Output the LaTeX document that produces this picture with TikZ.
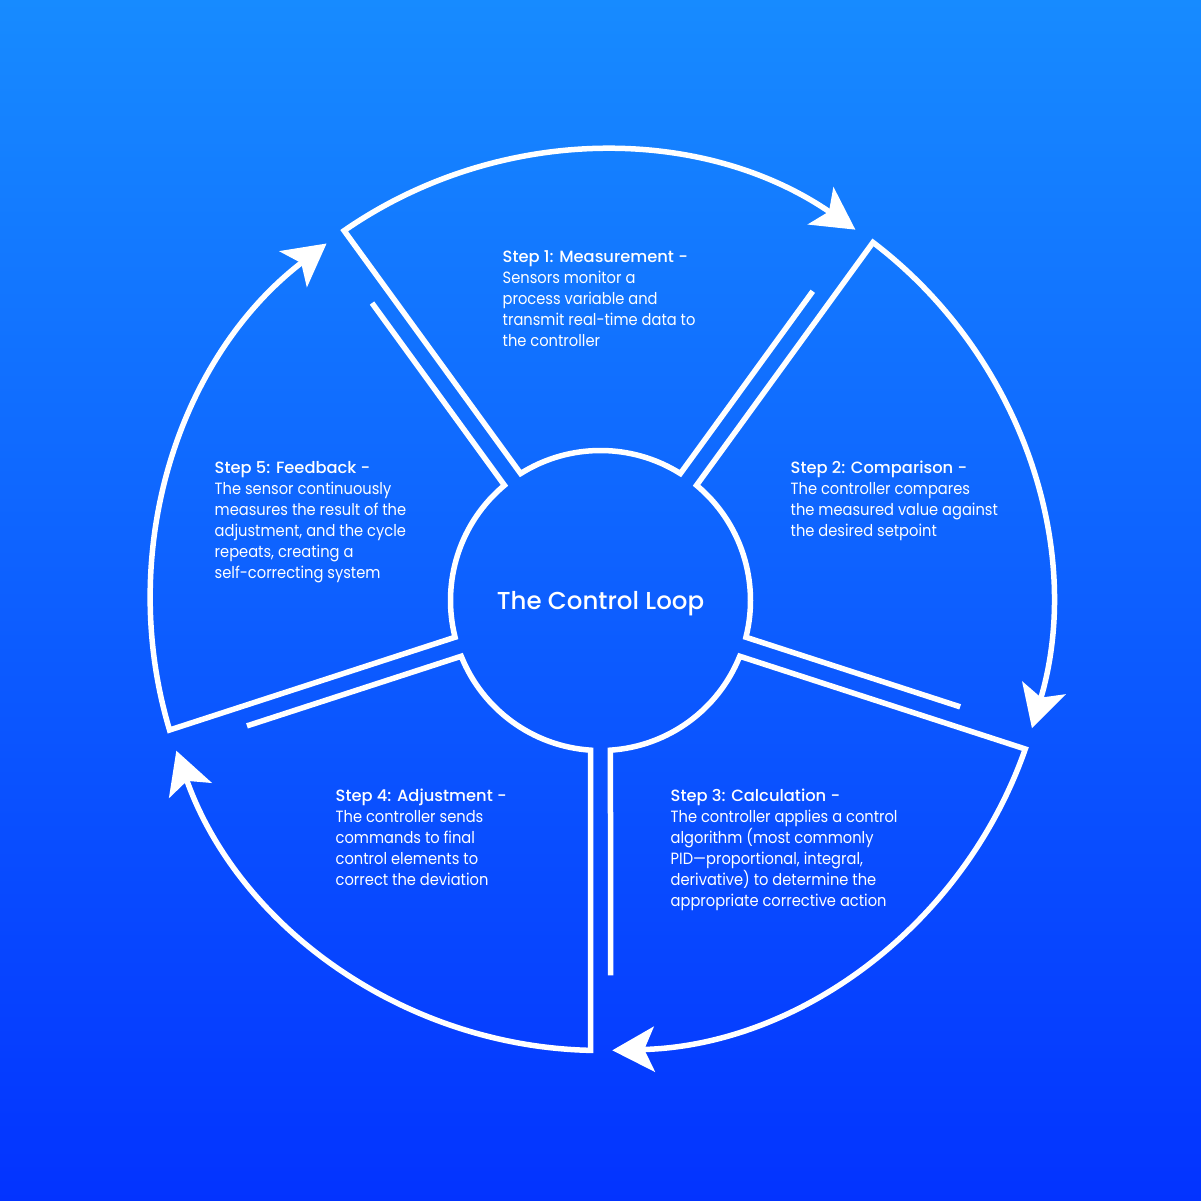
\documentclass[tikz,border=0pt]{standalone}
\usepackage{fontspec}
\setmainfont{Poppins}[FakeStretch=0.9]
\newfontfamily\headfont{Poppins Medium}
\usetikzlibrary{arrows.meta}
\definecolor{bgtop}{HTML}{178BFF}
\definecolor{bgmid}{HTML}{0B60F9}
\definecolor{bgbot}{HTML}{0333FF}

\begin{document}
\begin{tikzpicture}[x=1pt,y=1pt,
    ring/.style={draw=white,line width=5.5pt,line join=miter},
    steptext/.style={text=white,align=left,anchor=base west,inner sep=0pt,font=\fontsize{16.3}{21}\selectfont},
    >={Stealth[length=42pt,width=45pt,inset=10pt]}]
  \shade[top color=bgtop,middle color=bgmid,bottom color=bgbot] (-600.5,-600.5) rectangle (600.5,600.5);
  \useasboundingbox (-600.5,-600.5) rectangle (600.5,600.5);
  % one segment per step, from the short spoke line round to the arrow
  \foreach \b in {54,-18,-90,-162,126}{
    \pgfmathsetmacro\sa{\b+1.53}
    \pgfmathsetmacro\ia{\b+3.82}
    \pgfmathsetmacro\ib{\b+72-3.82}
    \pgfmathsetmacro\oa{\b+72-1.27}
    \pgfmathsetmacro\ob{\b+1.5}
    \draw[ring,->] (\sa:375.1) -- (\ia:150) arc[start angle=\ia,end angle=\ib,radius=150]
      -- (\oa:450) arc[start angle=\oa,end angle=\ob,radius=450];
  }
  \node[text=white,anchor=base,font=\headfont\fontsize{24.5}{30}\selectfont] (title) at (0,-9) {The Control Loop};
  % base anchor sits on the last line
  \node[steptext] (measure) at (-98,254) {{\headfont Step 1: Measurement -}\\Sensors monitor a\\process variable and\\transmit real-time data to\\the controller};
  \node[steptext] (compare) at (190,64) {{\headfont Step 2: Comparison -}\\The controller compares\\the measured value against\\the desired setpoint};
  \node[steptext] (calc) at (70,-306) {{\headfont Step 3: Calculation -}\\The controller applies a control\\algorithm (most commonly\\PID—proportional, integral,\\derivative) to determine the\\appropriate corrective action};
  \node[steptext] (adjust) at (-265,-285) {{\headfont Step 4: Adjustment -}\\The controller sends\\commands to final\\control elements to\\correct the deviation};
  \node[steptext] (feedback) at (-386,22) {{\headfont Step 5: Feedback -}\\The sensor continuously\\measures the result of the\\adjustment, and the cycle\\repeats, creating a\\self-correcting system};
\end{tikzpicture}
\end{document}
